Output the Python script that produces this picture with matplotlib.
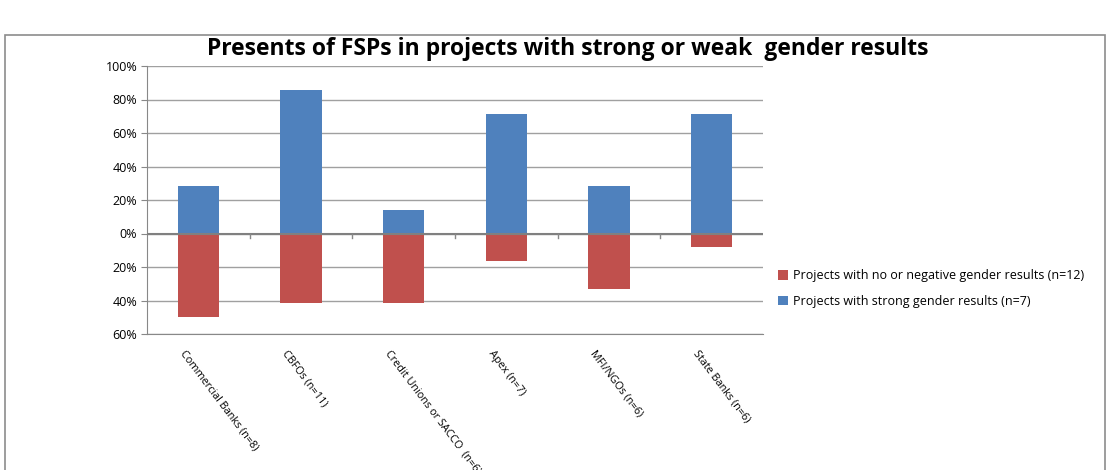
import matplotlib.pyplot as plt
import numpy as np
from matplotlib.patches import Rectangle
from matplotlib.ticker import FuncFormatter
import matplotlib.transforms as mtransforms

# data (shares of projects)
categories = ['Commercial Banks (n=8)', 'CBFOs (n=11)', 'Credit Unions or SACCO  (n=6)',
              'Apex (n=7)', 'MFI/NGOs (n=6)', 'State Banks (n=6)']
strong = [28.6, 85.7, 14.3, 71.4, 28.6, 71.4]        # strong gender results (n=7)
weak = [-50.0, -41.7, -41.7, -16.7, -33.3, -8.3]     # no or negative results (n=12)

blue = '#4f81bd'
red = '#c0504d'
grey = '#888888'

plt.rcParams['font.family'] = ['Open Sans', 'DejaVu Sans']

fig = plt.figure(figsize=(11.1, 4.7), dpi=100)
ax = fig.add_axes([147 / 1110, 1 - 334 / 470, (763 - 147) / 1110, (334 - 66) / 470])

x = np.arange(len(categories))
ax.bar(x, weak, width=0.4, color=red, label='Projects with no or negative gender results (n=12)', zorder=3)
ax.bar(x, strong, width=0.4, color=blue, label='Projects with strong gender results (n=7)', zorder=3)

ax.set_xlim(-0.5, len(categories) - 0.5)
ax.set_ylim(-60, 100)
ax.set_yticks(np.arange(-60, 101, 20))
ax.yaxis.set_major_formatter(FuncFormatter(lambda v, p: f'{abs(v):.0f}%'))
ax.tick_params(axis='y', length=4, color=grey, labelsize=9, pad=3)
ax.grid(axis='y', color='#a0a0a0', linewidth=1, zorder=0)
ax.axhline(0, color='#808080', linewidth=1.5, zorder=4)

for s in ['top', 'right']:
    ax.spines[s].set_visible(False)
ax.spines['left'].set_color(grey)
ax.spines['bottom'].set_color(grey)

# category boundary ticks on the zero line
ax.set_xticks([])
for b in np.arange(0.5, len(categories) - 0.5, 1):
    ax.plot([b, b], [0, -2.5], color=grey, linewidth=1, zorder=4)

# rotated category labels under the axis
offset = mtransforms.ScaledTranslation(-12 / 100, -14 / 100, fig.dpi_scale_trans)
for xi, lab in zip(x, categories):
    ax.text(xi, -60, lab, rotation=-53, rotation_mode='anchor', ha='left', va='top',
            fontsize=7.8, transform=ax.transData + offset, clip_on=False)

fig.text(568 / 1110, 1 - 49 / 470,
         'Presents of FSPs in projects with strong or weak  gender results',
         ha='center', va='center', fontsize=16.5, fontweight='bold')

handles, labels = ax.get_legend_handles_labels()
fig.legend(handles, labels, loc='upper left', bbox_to_anchor=(767 / 1110, 1 - 258 / 470),
           frameon=False, fontsize=9, handlelength=0.8, handleheight=0.8,
           labelspacing=1.0, handletextpad=0.4)

# outer chart frame
fig.patches.append(Rectangle((5 / 1110, -0.01), 1100 / 1110, 1 - 35 / 470 + 0.01,
                             transform=fig.transFigure, fill=False, edgecolor='#8c8c8c',
                             linewidth=1.2))

plt.savefig('out.png', dpi=100)
